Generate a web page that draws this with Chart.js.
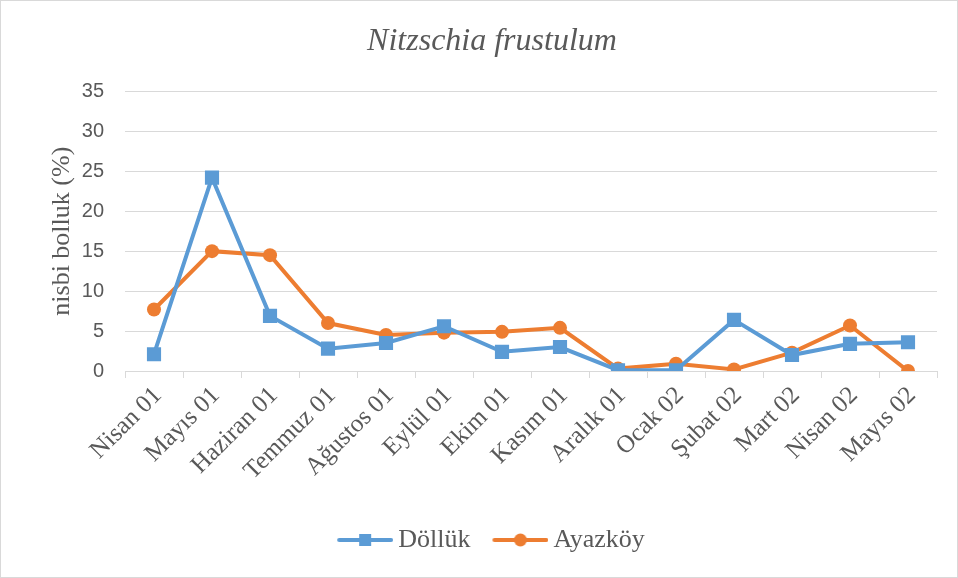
<!DOCTYPE html>
<html>
<head>
<meta charset="utf-8">
<script src="https://cdn.jsdelivr.net/npm/chart.js@4"></script>
<style>
    body { margin: 0; background: #fff; }
    #wrap { width: 958px; height: 578px; box-sizing: border-box; border: 1px solid #d9d9d9; }
    canvas { display: block; }
</style>
</head>
<body>
<div id="wrap"><canvas id="chart" width="956" height="576"></canvas></div>
<script>
const months = ["Nisan 01", "Mayıs 01", "Haziran 01", "Temmuz 01", "Ağustos 01", "Eylül 01", "Ekim 01",
    "Kasım 01", "Aralık 01", "Ocak 02", "Şubat 02", "Mart 02", "Nisan 02", "Mayıs 02"];
const dollukValues = [2.1, 24.2, 6.9, 2.8, 3.5, 5.6, 2.4, 3.0, 0.1, 0.1, 6.4, 2.0, 3.4, 3.6];
const ayazkoyValues = [7.7, 15.0, 14.5, 6.0, 4.5, 4.8, 4.9, 5.4, 0.3, 0.9, 0.2, 2.3, 5.7, 0.0];
const yTicks = [0, 5, 10, 15, 20, 25, 30, 35];

const BLUE = "#5B9BD5";
const ORANGE = "#ED7D31";
const GREY = "#595959";

// legend symbol: line with marker; left part left empty so the text sits close
function legendSymbol(color, square) {
    const c = document.createElement("canvas");
    c.width = 62;
    c.height = 16;
    const g = c.getContext("2d");
    g.strokeStyle = color;
    g.lineWidth = 4;
    g.lineCap = "round";
    g.beginPath();
    g.moveTo(8, 8);
    g.lineTo(60, 8);
    g.stroke();
    g.fillStyle = color;
    if (square) {
        g.fillRect(28, 2, 12, 12);
    } else {
        g.beginPath();
        g.arc(34, 8, 6.5, 0, Math.PI * 2);
        g.fill();
    }
    return c;
}

const symbols = [legendSymbol(BLUE, true), legendSymbol(ORANGE, false)];

new Chart(document.getElementById("chart"), {
    type: "line",
    data: {
        labels: months,
        datasets: [
        {
            label: "Döllük",
            data: dollukValues,
            borderColor: BLUE,
            backgroundColor: BLUE,
            borderWidth: 4,
            pointStyle: "rect",
            pointRadius: 10,
            pointBorderWidth: 0,
            tension: 0
        },
        {
            label: "Ayazköy",
            data: ayazkoyValues,
            borderColor: ORANGE,
            backgroundColor: ORANGE,
            borderWidth: 4,
            pointStyle: "circle",
            pointRadius: 7,
            pointBorderWidth: 0,
            tension: 0
        }
        ]
    },
    options: {
        responsive: false,
        animation: false,
        layout: {
            padding: { left: 46, right: 20, top: 0, bottom: 14 }
        },
        plugins: {
            title: {
                display: true,
                text: "Nitzschia frustulum",
                color: GREY,
                font: { family: "'Liberation Serif', serif", size: 32, style: "italic", weight: "normal" },
                padding: { top: 21, bottom: 31 }
            },
            legend: {
                position: "bottom",
                labels: {
                    usePointStyle: true,
                    pointStyleWidth: 46,
                    padding: 24,
                    color: GREY,
                    font: { family: "'Liberation Serif', serif", size: 26 },
                    generateLabels(chart) {
                        return chart.data.datasets.map((ds, i) => ({
                            text: ds.label,
                            pointStyle: symbols[i],
                            fillStyle: ds.borderColor,
                            strokeStyle: ds.borderColor,
                            lineWidth: 0,
                            fontColor: GREY,
                            hidden: false,
                            datasetIndex: i
                        }));
                    }
                }
            },
            tooltip: { enabled: false }
        },
        scales: {
            x: {
                offset: true,
                afterFit(axis) { axis.height = 132; },
                grid: {
                    offset: true,
                    drawOnChartArea: false,
                    drawTicks: true,
                    tickLength: 7,
                    color: "#d9d9d9"
                },
                border: { color: "#d9d9d9", width: 1 },
                ticks: {
                    minRotation: 45,
                    maxRotation: 45,
                    autoSkip: false,
                    padding: 3,
                    labelOffset: 4,
                    color: GREY,
                    font: { family: "'Liberation Serif', serif", size: 25 }
                }
            },
            y: {
                min: 0,
                max: 35,
                afterFit(axis) { axis.width = 78; },
                afterBuildTicks(axis) { axis.ticks = yTicks.map(v => ({ value: v })); },
                grid: {
                    color: "#d9d9d9",
                    drawTicks: false
                },
                border: { display: false },
                ticks: {
                    padding: 21,
                    color: GREY,
                    font: { family: "'Liberation Sans', sans-serif", size: 20 }
                },
                title: {
                    display: true,
                    text: "nisbi bolluk (%)",
                    color: GREY,
                    padding: 0,
                    font: { family: "'Liberation Serif', serif", size: 26 }
                }
            }
        }
    }
});
</script>
</body>
</html>
